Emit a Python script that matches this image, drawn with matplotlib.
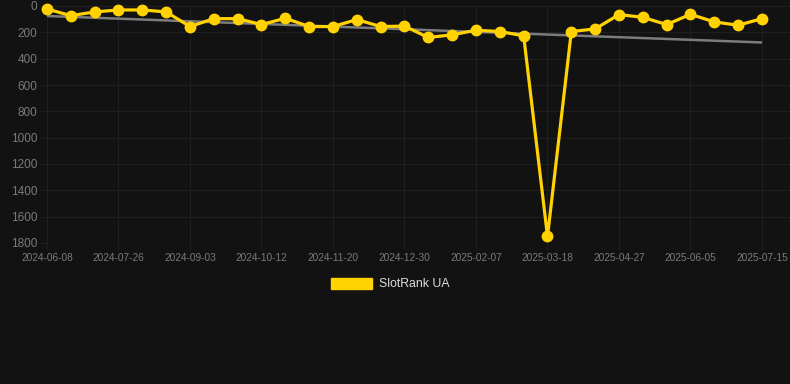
import matplotlib
matplotlib.use("Agg")
import matplotlib.pyplot as plt
from matplotlib.patches import Patch
import numpy as np

plt.rcParams['font.family'] = ['Liberation Sans', 'DejaVu Sans']

# Data (rank values; lower is better, axis is inverted)
rank_values = [23, 73, 45, 30, 30, 45, 156, 96, 96, 141, 93, 156, 156, 103, 156,
               153, 239, 219, 184, 194, 226, 1750, 194, 174, 65, 86, 141, 63, 121, 146, 96]
tick_labels = ['2024-06-08', '2024-07-26', '2024-09-03', '2024-10-12', '2024-11-20',
               '2024-12-30', '2025-02-07', '2025-03-18', '2025-04-27', '2025-06-05',
               '2025-07-15']
trend_values = [76, 277]
y_ticks = [0, 200, 400, 600, 800, 1000, 1200, 1400, 1600, 1800]
series_name = 'SlotRank UA'

BG = '#121212'
GRID = '#1f1f1f'
TICK = '#7a7a7a'
YELLOW = '#FFD200'
TREND = '#7c7c7c'

W, H = 790, 384
fig = plt.figure(figsize=(W / 100, H / 100), dpi=100, facecolor=BG)
ax = fig.add_axes([47 / W, 1 - 243 / H, (W - 47) / W, (243 - 6) / H], facecolor=BG)

x = np.arange(len(rank_values))
n = len(rank_values)

# trend line
ax.plot([0, n - 1], trend_values, color=TREND, lw=1.8, zorder=2, solid_capstyle='butt')
# series
ax.plot(x, rank_values, color=YELLOW, lw=2.3, marker='o', markersize=7.5,
        markerfacecolor=YELLOW, markeredgecolor=YELLOW, zorder=3, clip_on=False)

ax.set_ylim(1800, 0)
ax.set_xlim(0, (n - 1) + 28 / 23.83)

ax.set_yticks(y_ticks)
ax.set_yticklabels([str(v) for v in y_ticks])
tick_pos = list(range(0, n, 3))
ax.set_xticks(tick_pos)
ax.set_xticklabels(tick_labels)

ax.grid(True, color=GRID, lw=0.8)
ax.set_axisbelow(True)
for s in ax.spines.values():
    s.set_visible(False)

ax.tick_params(axis='y', colors=GRID, length=5, width=0.8, labelcolor=TICK,
               labelsize=8.5, pad=2)
ax.tick_params(axis='x', colors=GRID, length=5, width=0.8, labelcolor=TICK,
               labelsize=7.3, pad=2.5)

fig.legend(handles=[Patch(facecolor=YELLOW, edgecolor=YELLOW)], labels=[series_name],
           loc='center', bbox_to_anchor=(390 / W, 1 - 284 / H), frameon=False,
           handlelength=3.4, handleheight=1.0, handletextpad=0.5,
           prop={'size': 8.8}, labelcolor='#dddddd')

fig.savefig('out.png', dpi=100, facecolor=BG)
